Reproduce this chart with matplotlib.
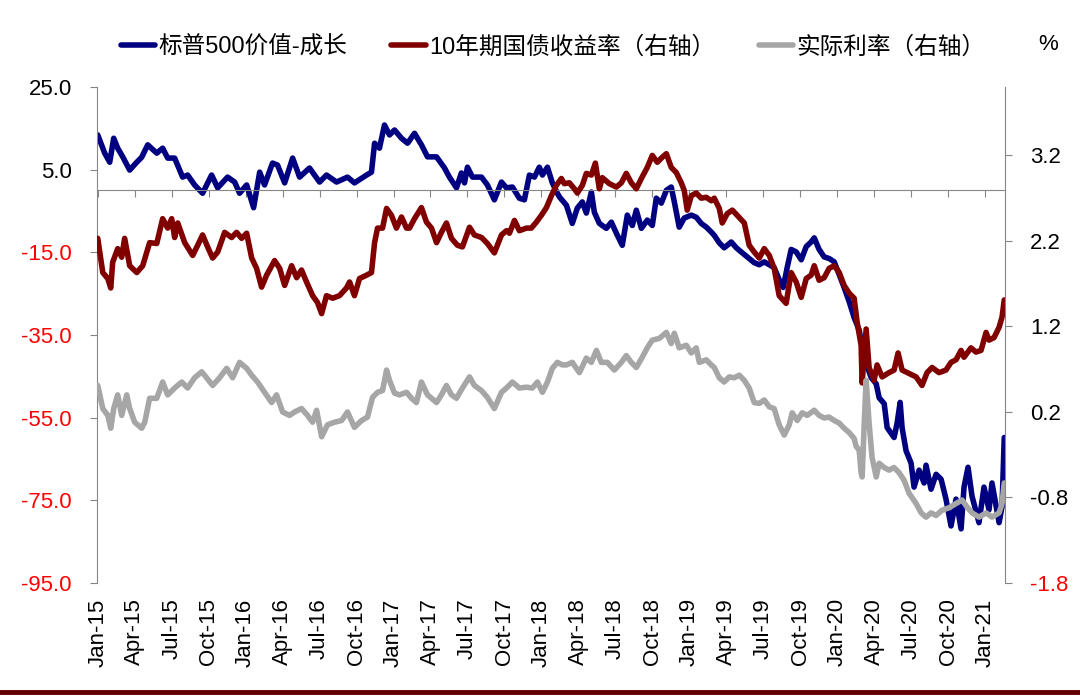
import matplotlib
matplotlib.use("Agg")
import matplotlib.pyplot as plt
from matplotlib.lines import Line2D

plt.rcParams['font.family'] = ['Liberation Sans', 'Noto Sans CJK SC']
plt.rcParams['axes.unicode_minus'] = False

# x = years since 2015-01-01
# S&P 500 value minus growth (left axis)
blue = [(0.000, 13.4), (0.047, 9.0), (0.081, 6.8), (0.108, 12.6), (0.135, 10.2), (0.169, 8.1),
        (0.216, 4.9), (0.264, 6.8), (0.297, 8.0), (0.338, 11.0), (0.399, 9.0), (0.439, 10.2),
        (0.473, 7.8), (0.520, 7.8), (0.574, 3.2), (0.608, 3.7), (0.655, 1.3), (0.709, -0.7),
        (0.770, 3.7), (0.811, 0.6), (0.878, 3.2), (0.926, 2.0), (0.959, -0.7), (1.007, 1.3),
        (1.054, -4.2), (1.095, 4.4), (1.128, 1.3), (1.182, 6.6), (1.216, 6.1), (1.264, 1.8),
        (1.318, 7.8), (1.365, 3.2), (1.432, 5.4), (1.500, 2.0), (1.547, 3.7), (1.615, 2.0),
        (1.689, 3.2), (1.736, 1.8), (1.818, 3.7), (1.851, 4.4), (1.872, 11.4), (1.905, 10.2),
        (1.939, 15.8), (1.973, 13.4), (2.007, 14.6), (2.054, 12.6), (2.095, 11.4), (2.142, 13.8),
        (2.189, 11.0), (2.230, 8.1), (2.291, 8.1), (2.345, 5.4), (2.378, 3.2), (2.426, 0.6),
        (2.459, 4.2), (2.480, 1.8), (2.500, 5.6), (2.534, 3.2), (2.595, 3.2), (2.635, 1.3),
        (2.682, -2.3), (2.730, 2.0), (2.764, 0.6), (2.804, 0.8), (2.851, -1.9), (2.885, -2.3),
        (2.919, 3.7), (2.953, 3.2), (2.986, 5.6), (3.007, 3.7), (3.041, 5.6), (3.074, 1.8),
        (3.108, -0.7), (3.122, -1.6), (3.169, -3.6), (3.209, -8.0), (3.243, -4.3), (3.277, -2.8),
        (3.304, -5.5), (3.338, -0.4), (3.358, -5.3), (3.392, -8.0), (3.439, -9.2), (3.473, -7.7),
        (3.514, -10.9), (3.547, -13.3), (3.581, -6.0), (3.615, -8.5), (3.642, -4.8), (3.676, -9.2),
        (3.716, -7.2), (3.750, -8.5), (3.777, -1.9), (3.811, -3.1), (3.845, 0.0), (3.878, 0.8),
        (3.899, -2.8), (3.932, -8.9), (3.966, -6.7), (4.014, -6.0), (4.047, -6.5), (4.081, -8.0),
        (4.115, -8.9), (4.149, -10.1), (4.169, -10.9), (4.203, -12.7), (4.236, -13.9), (4.284, -12.5),
        (4.318, -13.9), (4.351, -14.9), (4.392, -16.1), (4.439, -17.5), (4.473, -18.0), (4.507, -17.3),
        (4.541, -18.0), (4.574, -18.7), (4.608, -21.6), (4.635, -23.5), (4.662, -18.7), (4.689, -14.3),
        (4.723, -14.9), (4.757, -16.8), (4.791, -13.6), (4.824, -12.5), (4.845, -11.5), (4.878, -14.3),
        (4.912, -16.1), (4.946, -16.5), (4.980, -17.3), (5.014, -20.4), (5.047, -23.5), (5.081, -26.9),
        (5.115, -30.8), (5.149, -33.8), (5.182, -40.4), (5.230, -45.3), (5.264, -46.8), (5.284, -50.2),
        (5.318, -51.6), (5.338, -57.4), (5.385, -59.8), (5.405, -56.4), (5.426, -51.3), (5.439, -57.4),
        (5.466, -63.0), (5.500, -66.0), (5.520, -71.8), (5.554, -67.7), (5.588, -70.8), (5.601, -66.5),
        (5.635, -72.3), (5.669, -68.7), (5.703, -69.9), (5.736, -74.7), (5.770, -81.2), (5.804, -74.7),
        (5.838, -81.9), (5.858, -71.8), (5.885, -67.0), (5.912, -74.0), (5.959, -80.4), (5.993, -71.8),
        (6.027, -77.3), (6.047, -70.8), (6.095, -80.4), (6.115, -76.5), (6.130, -59.8)]

# 10y treasury yield (right axis)
red = [(0.000, 2.23), (0.034, 1.83), (0.068, 1.76), (0.088, 1.65), (0.101, 1.95), (0.135, 2.11),
       (0.162, 2.01), (0.182, 2.23), (0.216, 1.91), (0.264, 1.83), (0.304, 1.91), (0.351, 2.18),
       (0.399, 2.17), (0.439, 2.46), (0.473, 2.35), (0.500, 2.46), (0.520, 2.24), (0.541, 2.41),
       (0.588, 2.18), (0.642, 2.03), (0.676, 2.15), (0.709, 2.27), (0.743, 2.13), (0.777, 2.00),
       (0.811, 2.07), (0.858, 2.30), (0.905, 2.24), (0.939, 2.30), (0.973, 2.23), (1.007, 2.29),
       (1.041, 2.00), (1.074, 1.88), (1.108, 1.66), (1.142, 1.80), (1.196, 1.97), (1.230, 1.88),
       (1.264, 1.68), (1.311, 1.91), (1.345, 1.77), (1.378, 1.86), (1.412, 1.72), (1.453, 1.56),
       (1.486, 1.48), (1.514, 1.35), (1.547, 1.56), (1.588, 1.53), (1.635, 1.56), (1.682, 1.65),
       (1.703, 1.72), (1.736, 1.56), (1.770, 1.76), (1.818, 1.80), (1.851, 1.83), (1.872, 2.18),
       (1.892, 2.35), (1.926, 2.35), (1.953, 2.58), (1.986, 2.50), (2.020, 2.35), (2.054, 2.48),
       (2.088, 2.35), (2.108, 2.35), (2.142, 2.46), (2.189, 2.59), (2.223, 2.42), (2.257, 2.35),
       (2.291, 2.18), (2.324, 2.30), (2.358, 2.41), (2.392, 2.23), (2.432, 2.15), (2.466, 2.13),
       (2.514, 2.36), (2.547, 2.27), (2.595, 2.24), (2.635, 2.17), (2.682, 2.06), (2.730, 2.27),
       (2.764, 2.32), (2.784, 2.29), (2.818, 2.44), (2.851, 2.32), (2.899, 2.35), (2.932, 2.35),
       (2.966, 2.42), (3.000, 2.50), (3.034, 2.59), (3.068, 2.73), (3.101, 2.85), (3.135, 2.93),
       (3.155, 2.87), (3.189, 2.88), (3.223, 2.81), (3.243, 2.76), (3.277, 2.85), (3.304, 2.99),
       (3.338, 2.97), (3.365, 3.11), (3.392, 2.81), (3.412, 2.94), (3.459, 2.87), (3.507, 2.83),
       (3.541, 2.88), (3.574, 2.99), (3.608, 2.88), (3.642, 2.81), (3.676, 2.93), (3.716, 3.06),
       (3.750, 3.20), (3.784, 3.12), (3.818, 3.18), (3.845, 3.22), (3.878, 3.06), (3.912, 3.00),
       (3.946, 2.88), (3.966, 2.79), (3.986, 2.56), (4.014, 2.73), (4.047, 2.76), (4.081, 2.70),
       (4.115, 2.71), (4.149, 2.67), (4.169, 2.70), (4.203, 2.58), (4.223, 2.41), (4.257, 2.52),
       (4.291, 2.56), (4.324, 2.50), (4.372, 2.41), (4.405, 2.15), (4.439, 2.07), (4.473, 2.00),
       (4.507, 2.11), (4.541, 2.03), (4.574, 1.88), (4.608, 1.56), (4.655, 1.47), (4.689, 1.83),
       (4.723, 1.72), (4.757, 1.54), (4.791, 1.76), (4.824, 1.80), (4.845, 1.91), (4.878, 1.74),
       (4.912, 1.77), (4.946, 1.88), (4.980, 1.91), (5.014, 1.83), (5.047, 1.68), (5.081, 1.59),
       (5.115, 1.53), (5.135, 1.25), (5.162, 0.98), (5.169, 0.54), (5.196, 1.17), (5.216, 0.72),
       (5.250, 0.57), (5.270, 0.75), (5.304, 0.61), (5.351, 0.66), (5.385, 0.69), (5.412, 0.89),
       (5.439, 0.69), (5.486, 0.65), (5.534, 0.61), (5.574, 0.51), (5.608, 0.66), (5.642, 0.72),
       (5.689, 0.66), (5.736, 0.69), (5.770, 0.78), (5.804, 0.81), (5.838, 0.92), (5.858, 0.84),
       (5.905, 0.95), (5.939, 0.90), (5.973, 0.92), (6.007, 1.13), (6.027, 1.04), (6.061, 1.07),
       (6.095, 1.19), (6.115, 1.31), (6.130, 1.51)]

# real rate (right axis)
gray = [(0.000, 0.51), (0.034, 0.24), (0.068, 0.16), (0.088, 0.01), (0.108, 0.24), (0.135, 0.40),
        (0.162, 0.16), (0.196, 0.40), (0.216, 0.24), (0.250, 0.08), (0.297, 0.01), (0.318, 0.08),
        (0.351, 0.36), (0.399, 0.36), (0.439, 0.55), (0.473, 0.40), (0.520, 0.48), (0.568, 0.55),
        (0.608, 0.48), (0.655, 0.60), (0.703, 0.67), (0.736, 0.60), (0.777, 0.51), (0.824, 0.60),
        (0.872, 0.71), (0.912, 0.60), (0.959, 0.78), (1.007, 0.71), (1.041, 0.63), (1.081, 0.55),
        (1.128, 0.43), (1.176, 0.31), (1.209, 0.40), (1.250, 0.20), (1.297, 0.16), (1.331, 0.20),
        (1.378, 0.24), (1.419, 0.16), (1.453, 0.08), (1.480, 0.22), (1.514, -0.09), (1.554, 0.05),
        (1.601, 0.08), (1.649, 0.10), (1.689, 0.20), (1.736, 0.02), (1.784, 0.10), (1.824, 0.14),
        (1.858, 0.37), (1.892, 0.43), (1.926, 0.45), (1.953, 0.69), (1.973, 0.57), (2.007, 0.42),
        (2.041, 0.40), (2.088, 0.43), (2.122, 0.36), (2.155, 0.31), (2.189, 0.55), (2.230, 0.40),
        (2.291, 0.31), (2.324, 0.40), (2.358, 0.51), (2.392, 0.40), (2.426, 0.36), (2.466, 0.48),
        (2.514, 0.61), (2.547, 0.51), (2.595, 0.45), (2.635, 0.37), (2.682, 0.24), (2.730, 0.43),
        (2.764, 0.48), (2.804, 0.55), (2.851, 0.48), (2.899, 0.49), (2.939, 0.48), (2.973, 0.55),
        (3.007, 0.43), (3.041, 0.55), (3.074, 0.71), (3.108, 0.78), (3.142, 0.75), (3.169, 0.75),
        (3.209, 0.78), (3.257, 0.66), (3.304, 0.83), (3.338, 0.78), (3.372, 0.92), (3.405, 0.78),
        (3.446, 0.78), (3.493, 0.69), (3.541, 0.78), (3.574, 0.86), (3.608, 0.78), (3.642, 0.72),
        (3.682, 0.84), (3.716, 0.95), (3.750, 1.04), (3.797, 1.06), (3.845, 1.13), (3.878, 1.00),
        (3.899, 1.12), (3.932, 0.95), (3.980, 0.98), (4.014, 0.89), (4.047, 0.95), (4.068, 0.78),
        (4.115, 0.81), (4.149, 0.75), (4.169, 0.72), (4.203, 0.60), (4.236, 0.55), (4.270, 0.61),
        (4.304, 0.60), (4.338, 0.63), (4.372, 0.57), (4.405, 0.48), (4.439, 0.31), (4.473, 0.30),
        (4.507, 0.34), (4.541, 0.26), (4.574, 0.24), (4.608, 0.05), (4.642, -0.07), (4.676, 0.05),
        (4.696, 0.19), (4.730, 0.10), (4.764, 0.19), (4.797, 0.16), (4.845, 0.22), (4.878, 0.16),
        (4.912, 0.13), (4.946, 0.14), (4.980, 0.10), (5.014, 0.07), (5.047, 0.01), (5.081, -0.04),
        (5.115, -0.11), (5.128, -0.20), (5.149, -0.25), (5.162, -0.51), (5.169, -0.56), (5.182, 0.02),
        (5.196, 0.57), (5.216, 0.07), (5.236, -0.33), (5.264, -0.56), (5.284, -0.40), (5.318, -0.45),
        (5.351, -0.48), (5.385, -0.45), (5.419, -0.51), (5.453, -0.60), (5.486, -0.75), (5.534, -0.87),
        (5.568, -0.98), (5.601, -1.03), (5.635, -0.98), (5.669, -1.01), (5.709, -0.95), (5.757, -0.92),
        (5.804, -0.87), (5.845, -0.83), (5.878, -0.91), (5.912, -0.98), (5.959, -1.03), (6.007, -0.98),
        (6.047, -1.03), (6.095, -0.98), (6.115, -0.87), (6.130, -0.63)]

series_names = ['标普500价值-成长', '10年期国债收益率（右轴）', '实际利率（右轴）']
left_ticks = [25, 5, -15, -35, -55, -75, -95]
right_ticks = [3.2, 2.2, 1.2, 0.2, -0.8, -1.8]
x_ticks = [i * 0.25 for i in range(25)]
x_labels = [m + '-' + str(y) for y in range(15, 22) for m in ['Jan', 'Apr', 'Jul', 'Oct']][:25]

c_blue = '#000080'
c_red = '#800000'
c_gray = '#A6A6A6'
c_axis = '#868686'
fs = 16

fig = plt.figure(figsize=(10.8, 6.98), dpi=100)
ax = fig.add_axes([97 / 1080, 1 - 583 / 698, 908 / 1080, 496 / 698])
ax2 = ax.twinx()

lw = 4
l1, = ax.plot([p[0] for p in blue], [p[1] for p in blue], color=c_blue, lw=lw,
              solid_joinstyle='round', solid_capstyle='round')
l2, = ax2.plot([p[0] for p in red], [p[1] for p in red], color=c_red, lw=lw,
               solid_joinstyle='round', solid_capstyle='round')
l3, = ax2.plot([p[0] for p in gray], [p[1] for p in gray], color=c_gray, lw=lw,
               solid_joinstyle='round', solid_capstyle='round')

ax.set_xlim(-0.005, 6.135)
ax.set_ylim(-95, 25)
ax2.set_ylim(-1.8, 4.0)

# left axis
ax.set_yticks(left_ticks)
ax.set_yticklabels(['%.1f' % v for v in left_ticks], fontsize=fs)
for lab, v in zip(ax.get_yticklabels(), left_ticks):
    lab.set_color('red' if v < 0 else 'black')
ax.tick_params(axis='y', direction='out', length=5, color=c_axis, pad=13)

# right axis
ax2.set_yticks(right_ticks)
ax2.set_yticklabels(['%.1f' % v for v in right_ticks], fontsize=fs)
for lab, v in zip(ax2.get_yticklabels(), right_ticks):
    lab.set_color('red' if v == -1.8 else 'black')
ax2.tick_params(axis='y', direction='out', length=5, color=c_axis, pad=13)

# x axis line sits on zero, labels stay at the bottom
ax.spines['bottom'].set_position(('data', 0))
ax.set_xticks(x_ticks)
ax.tick_params(axis='x', direction='out', length=5, color=c_axis, labelbottom=False)
sec = ax.secondary_xaxis('bottom')
sec.set_xticks(x_ticks)
sec.set_xticklabels(x_labels, rotation=90, fontsize=fs)
sec.tick_params(length=0, pad=11)
sec.spines['bottom'].set_visible(False)

for s in ['top', 'right']:
    ax.spines[s].set_visible(False)
for s in ['top', 'left', 'bottom']:
    ax2.spines[s].set_visible(False)
ax.spines['left'].set_color(c_axis)
ax.spines['bottom'].set_color(c_axis)
ax2.spines['right'].set_color(c_axis)

fig.legend([l1, l2, l3], series_names, loc='center left', bbox_to_anchor=(0.112, 1 - 47 / 698),
           ncol=3, frameon=False, fontsize=17, handlelength=1.45, handletextpad=0.15,
           columnspacing=1.85, borderpad=0, borderaxespad=0)
fig.text(1048 / 1080, 1 - 45 / 698, '%', ha='center', va='center', fontsize=fs)

fig.add_artist(Line2D([0, 1], [1 - 692 / 698, 1 - 692 / 698], transform=fig.transFigure,
                      color='#600000', lw=3.5))

fig.savefig('out.png', dpi=100)
